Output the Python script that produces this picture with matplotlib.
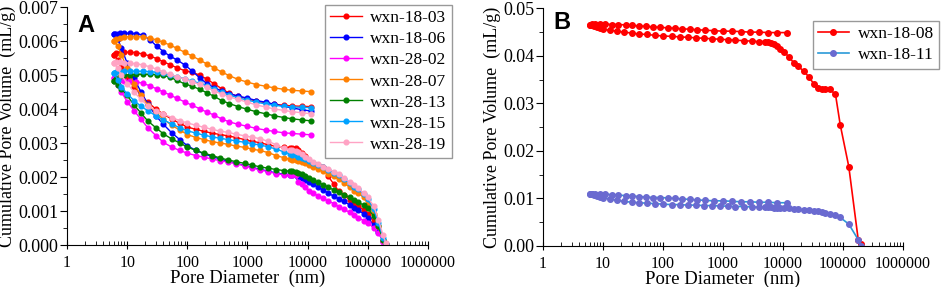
import numpy as np
import matplotlib
matplotlib.use('Agg')
import matplotlib.pyplot as plt
from matplotlib.ticker import FixedLocator, FuncFormatter, MultipleLocator

plt.rcParams['font.family'] = ['Liberation Serif', 'DejaVu Serif']

# ---------------- panel A data (values in 0.001 mL/g) ----------------
# intrusion branch diameters (nm), ascending
d_intr = [6, 7, 8, 10, 13, 17, 22, 30, 40, 55,
          75, 100, 140, 190, 260, 350, 480, 650, 900, 1200,
          1600, 2200, 3000, 4000, 5000, 5600, 6300, 7000, 8000, 9000,
          10500, 12500, 15000, 18000, 22000, 27000, 33000, 40000, 50000, 60000,
          70000, 85000, 100000, 125000, 150000, 180000, 200000]
# extrusion branch diameters (nm), ascending
d_extr = [6, 6.5, 7.5, 9, 11, 14, 18, 24, 31, 40, 52, 68, 90, 120, 160, 210,
          280, 370, 500, 700, 1000, 1400, 2000, 2800, 4000, 5600, 8000, 11500]

labels_a = ['wxn-18-03', 'wxn-18-06', 'wxn-28-02', 'wxn-28-07',
            'wxn-28-13', 'wxn-28-15', 'wxn-28-19']
colors_a = ['#ff0000', '#0000ff', '#ff00ff', '#ff8000',
            '#008000', '#00a2ff', '#ffa3c4']

intr_1803 = [5.60, 5.45, 5.25, 4.95, 4.65, 4.40, 4.20, 4.00, 3.85, 3.70,
             3.58, 3.47, 3.40, 3.34, 3.29, 3.25, 3.21, 3.16, 3.10, 3.05,
             3.01, 2.95, 2.90, 2.88, 2.86, 2.86, 2.84, 2.80, 2.72, 2.62,
             2.48, 2.40, 2.34, 2.28, 2.02, 1.80, 1.58, 1.48, 1.32, 1.22,
             1.14, 1.04, 0.92, 0.70, 0.45, 0.12, 0.02]
intr_1806 = [6.20, 6.05, 5.80, 5.35, 4.90, 4.50, 4.15, 3.80, 3.55, 3.30,
             3.10, 2.92, 2.78, 2.68, 2.60, 2.53, 2.46, 2.40, 2.34, 2.28,
             2.23, 2.17, 2.12, 2.08, 2.06, 2.06, 2.05, 2.00, 1.96, 1.92,
             1.86, 1.78, 1.70, 1.62, 1.52, 1.44, 1.36, 1.28, 1.18, 1.10,
             1.02, 0.92, 0.80, 0.58, 0.38, 0.12, 0.03]
intr_2802 = [4.90, 4.70, 4.50, 4.22, 3.95, 3.70, 3.45, 3.22, 3.02, 2.88,
             2.78, 2.70, 2.63, 2.58, 2.53, 2.48, 2.44, 2.39, 2.33, 2.27,
             2.21, 2.16, 2.10, 2.07, 2.06, 2.06, 2.05, 1.86, 1.78, 1.70,
             1.60, 1.52, 1.45, 1.37, 1.30, 1.22, 1.13, 1.05, 0.96, 0.88,
             0.80, 0.72, 0.66, 0.50, 0.35, 0.10, 0.02]
intr_2807 = [6.00, 5.85, 5.60, 5.20, 4.75, 4.40, 4.12, 3.90, 3.70, 3.52,
             3.38, 3.25, 3.16, 3.10, 3.04, 3.00, 2.96, 2.91, 2.87, 2.82,
             2.78, 2.72, 2.63, 2.57, 2.52, 2.50, 2.49, 2.46, 2.43, 2.40,
             2.36, 2.30, 2.24, 2.17, 2.10, 2.02, 1.93, 1.82, 1.70, 1.60,
             1.52, 1.40, 1.20, 0.90, 0.55, 0.15, 0.02]
intr_2813 = [4.82, 4.72, 4.60, 4.40, 4.12, 3.88, 3.65, 3.45, 3.27, 3.12,
             3.00, 2.88, 2.78, 2.70, 2.63, 2.56, 2.50, 2.45, 2.40, 2.35,
             2.30, 2.26, 2.22, 2.19, 2.17, 2.17, 2.16, 2.12, 2.08, 2.04,
             1.98, 1.91, 1.84, 1.77, 1.70, 1.62, 1.55, 1.48, 1.40, 1.33,
             1.26, 1.17, 1.08, 0.85, 0.55, 0.15, 0.03]
intr_2815 = [5.05, 4.85, 4.65, 4.45, 4.25, 4.08, 3.95, 3.80, 3.68, 3.56,
             3.45, 3.36, 3.29, 3.23, 3.18, 3.14, 3.10, 3.06, 3.02, 2.98,
             2.94, 2.89, 2.82, 2.74, 2.68, 2.66, 2.64, 2.60, 2.56, 2.52,
             2.46, 2.40, 2.34, 2.28, 2.21, 2.13, 2.05, 1.95, 1.82, 1.72,
             1.64, 1.50, 1.35, 1.05, 0.65, 0.20, 0.03]
intr_2819 = [5.36, 5.20, 5.00, 4.75, 4.50, 4.28, 4.10, 3.95, 3.85, 3.75,
             3.66, 3.59, 3.52, 3.46, 3.40, 3.35, 3.31, 3.26, 3.21, 3.17,
             3.13, 3.05, 2.95, 2.85, 2.80, 2.79, 2.77, 2.73, 2.67, 2.60,
             2.52, 2.44, 2.37, 2.30, 2.24, 2.16, 2.08, 1.97, 1.85, 1.76,
             1.68, 1.52, 1.40, 1.15, 0.75, 0.28, 0.05]

extr_1803 = [5.60, 5.64, 5.66, 5.67, 5.67, 5.66, 5.62, 5.56, 5.48, 5.39,
             5.30, 5.21, 5.13, 5.08, 5.00, 4.88, 4.74, 4.60, 4.46, 4.37,
             4.30, 4.23, 4.18, 4.14, 4.11, 4.09, 4.08, 4.07]
extr_1806 = [6.20, 6.22, 6.23, 6.23, 6.23, 6.22, 6.18, 6.03, 5.85, 5.69,
             5.55, 5.44, 5.30, 5.12, 4.92, 4.75, 4.63, 4.53, 4.45, 4.38,
             4.32, 4.25, 4.20, 4.14, 4.08, 4.03, 3.98, 3.94]
extr_2802 = [4.90, 4.88, 4.85, 4.83, 4.82, 4.80, 4.76, 4.68, 4.59, 4.50,
             4.41, 4.31, 4.21, 4.11, 4.01, 3.91, 3.82, 3.71, 3.62, 3.55,
             3.49, 3.43, 3.38, 3.34, 3.30, 3.28, 3.26, 3.24]
extr_2807 = [6.00, 6.05, 6.10, 6.12, 6.13, 6.13, 6.12, 6.09, 6.03, 5.96,
             5.88, 5.78, 5.67, 5.56, 5.44, 5.33, 5.21, 5.09, 4.98, 4.87,
             4.79, 4.72, 4.67, 4.62, 4.58, 4.55, 4.53, 4.51]
extr_2813 = [4.82, 4.88, 4.96, 5.00, 5.01, 5.02, 5.02, 5.02, 5.01, 4.99,
             4.93, 4.84, 4.74, 4.67, 4.58, 4.48, 4.37, 4.25, 4.16, 4.07,
             3.99, 3.92, 3.86, 3.80, 3.75, 3.71, 3.68, 3.65]
extr_2815 = [5.05, 5.08, 5.10, 5.11, 5.11, 5.11, 5.11, 5.10, 5.08, 5.05,
             5.01, 4.95, 4.89, 4.82, 4.76, 4.68, 4.58, 4.49, 4.41, 4.33,
             4.26, 4.20, 4.15, 4.11, 4.08, 4.06, 4.05, 4.04]
extr_2819 = [5.36, 5.37, 5.37, 5.36, 5.35, 5.33, 5.30, 5.24, 5.17, 5.09,
             5.02, 4.95, 4.88, 4.80, 4.73, 4.64, 4.53, 4.44, 4.36, 4.28,
             4.20, 4.12, 4.06, 4.00, 3.96, 3.92, 3.89, 3.86]

intr_a = [intr_1803, intr_1806, intr_2802, intr_2807, intr_2813, intr_2815, intr_2819]
extr_a = [extr_1803, extr_1806, extr_2802, extr_2807, extr_2813, extr_2815, extr_2819]

# ---------------- panel B data (mL/g) ----------------
d_intr_b = [6, 6.5, 7, 8, 9, 10, 13, 17, 22, 30,
            40, 55, 75, 100, 140, 190, 260, 350, 480, 650,
            900, 1200, 1600, 2200, 3000, 4000, 5000, 5600, 6300, 7000,
            8000, 9000, 10500, 12500, 15000, 18000, 22000, 27000, 33000, 38000,
            44000, 50000, 60000, 75000, 90000, 125000, 180000, 200000]
intr_1808 = [0.0466, 0.0465, 0.0463, 0.0461, 0.0459, 0.0456, 0.0454, 0.0452, 0.0450, 0.0448,
             0.0446, 0.0445, 0.0443, 0.0442, 0.0441, 0.0440, 0.0439, 0.0438, 0.0437, 0.0436,
             0.0435, 0.0434, 0.0433, 0.0432, 0.0431, 0.0430, 0.0430, 0.0429, 0.0428, 0.0425,
             0.0420, 0.0415, 0.0408, 0.0398, 0.0386, 0.0378, 0.0368, 0.0356, 0.0340, 0.0333,
             0.0331, 0.0330, 0.0330, 0.0319, 0.0255, 0.0167, 0.0012, 0.0004]
intr_1811 = [0.0110, 0.0109, 0.0108, 0.0106, 0.0104, 0.0102, 0.0099, 0.0096, 0.0094, 0.0092,
             0.0091, 0.0090, 0.0089, 0.0088, 0.0087, 0.0087, 0.0086, 0.0086, 0.0085, 0.0085,
             0.0084, 0.0084, 0.0083, 0.0083, 0.0082, 0.0082, 0.0081, 0.0081, 0.0081, 0.0080,
             0.0080, 0.0080, 0.0079, 0.0079, 0.0078, 0.0077, 0.0076, 0.0075, 0.0074, 0.0073,
             0.0072, 0.0070, 0.0068, 0.0065, 0.0060, 0.0046, 0.0013, 0.0001]
extr_1808 = [0.0466, 0.0467, 0.0467, 0.0467, 0.0467, 0.0466, 0.0466, 0.0465, 0.0464, 0.0463,
             0.0462, 0.0461, 0.0460, 0.0459, 0.0458, 0.0457, 0.0456, 0.0455, 0.0454, 0.0453,
             0.0452, 0.0452, 0.0451, 0.0450, 0.0450, 0.0449, 0.0449, 0.0449]
extr_1811 = [0.0110, 0.0110, 0.0110, 0.0110, 0.0109, 0.0108, 0.0107, 0.0106, 0.0105, 0.0104,
             0.0103, 0.0102, 0.0102, 0.0101, 0.0100, 0.0099, 0.0098, 0.0097, 0.0096, 0.0095,
             0.0095, 0.0094, 0.0093, 0.0093, 0.0092, 0.0092, 0.0091, 0.0091]


def curve(d_in, v_in, d_ex, v_ex, scale=1.0):
    # intrusion from large to small pores, then extrusion back up
    x = list(d_in[::-1]) + list(d_ex)
    y = [v * scale for v in v_in[::-1]] + [v * scale for v in v_ex]
    return x, y


def style_axis(ax, ymax, ystep, fmt):
    ax.set_xscale('log')
    ax.set_xlim(1, 1e6)
    ax.set_ylim(0, ymax)
    ax.spines['top'].set_visible(False)
    ax.spines['right'].set_visible(False)
    ax.xaxis.set_major_locator(FixedLocator([1, 10, 100, 1000, 1e4, 1e5, 1e6]))
    ax.xaxis.set_major_formatter(FuncFormatter(lambda v, p: '%d' % round(v)))
    ax.yaxis.set_major_locator(MultipleLocator(ystep))
    ax.yaxis.set_minor_locator(MultipleLocator(ystep / 2))
    ax.yaxis.set_major_formatter(FuncFormatter(lambda v, p: fmt % v))
    ax.tick_params(axis='x', which='major', direction='inout', length=6, labelsize=11.5, pad=4)
    ax.tick_params(axis='x', which='minor', direction='in', length=3)
    ax.tick_params(axis='y', which='major', direction='out', length=5, labelsize=13, pad=1)
    ax.tick_params(axis='y', which='minor', direction='out', length=3)
    ax.set_xlabel('Pore Diameter  (nm)', fontsize=13.5, labelpad=-1)
    ax.set_ylabel('Cumulative Pore Volume  (mL/g)', fontsize=13, labelpad=2)


legend_kw = dict(fontsize=12.5, frameon=True, fancybox=False, edgecolor='#808080',
                 handlelength=1.8, handletextpad=0.5, labelspacing=0.28,
                 borderpad=0.3, borderaxespad=0.0)

fig = plt.figure(figsize=(9.41, 2.87), dpi=100)
axA = fig.add_axes([0.0712, 0.1463, 0.3836, 0.8293])
axB = fig.add_axes([0.577, 0.1429, 0.3826, 0.828])

for lab, col, vi, ve in zip(labels_a, colors_a, intr_a, extr_a):
    x, y = curve(d_intr, vi, d_extr, ve, scale=0.001)
    axA.plot(x, y, '-', color=col, lw=1, marker='o', ms=3.4, mec=col, mfc=col, label=lab)

style_axis(axA, 0.007, 0.001, '%.3f')
leg = axA.legend(loc='upper right', bbox_to_anchor=(1.066, 1.008), **legend_kw)
leg.get_frame().set_linewidth(1.0)
axA.text(0.03, 0.97, 'A', transform=axA.transAxes, fontsize=17, fontweight='bold',
         family='Liberation Sans', va='top', ha='left')

x, y = curve(d_intr_b, intr_1808, d_extr, extr_1808)
axB.plot(x, y, '-', color='#ff0000', lw=1.2, marker='o', ms=4, mec='#ff0000',
         mfc='#ff0000', label='wxn-18-08')
x, y = curve(d_intr_b, intr_1811, d_extr, extr_1811)
axB.plot(x, y, '-', color='#2a9ad8', lw=1.2, marker='o', ms=4, mec='#6a6ad0',
         mfc='#6a6ad0', label='wxn-18-11')

style_axis(axB, 0.05, 0.01, '%.2f')
leg = axB.legend(loc='upper right', bbox_to_anchor=(1.1, 0.947), **legend_kw)
leg.get_frame().set_linewidth(1.0)
axB.text(0.03, 0.99, 'B', transform=axB.transAxes, fontsize=17, fontweight='bold',
         family='Liberation Sans', va='top', ha='left')

fig.savefig('out.png', dpi=100)
